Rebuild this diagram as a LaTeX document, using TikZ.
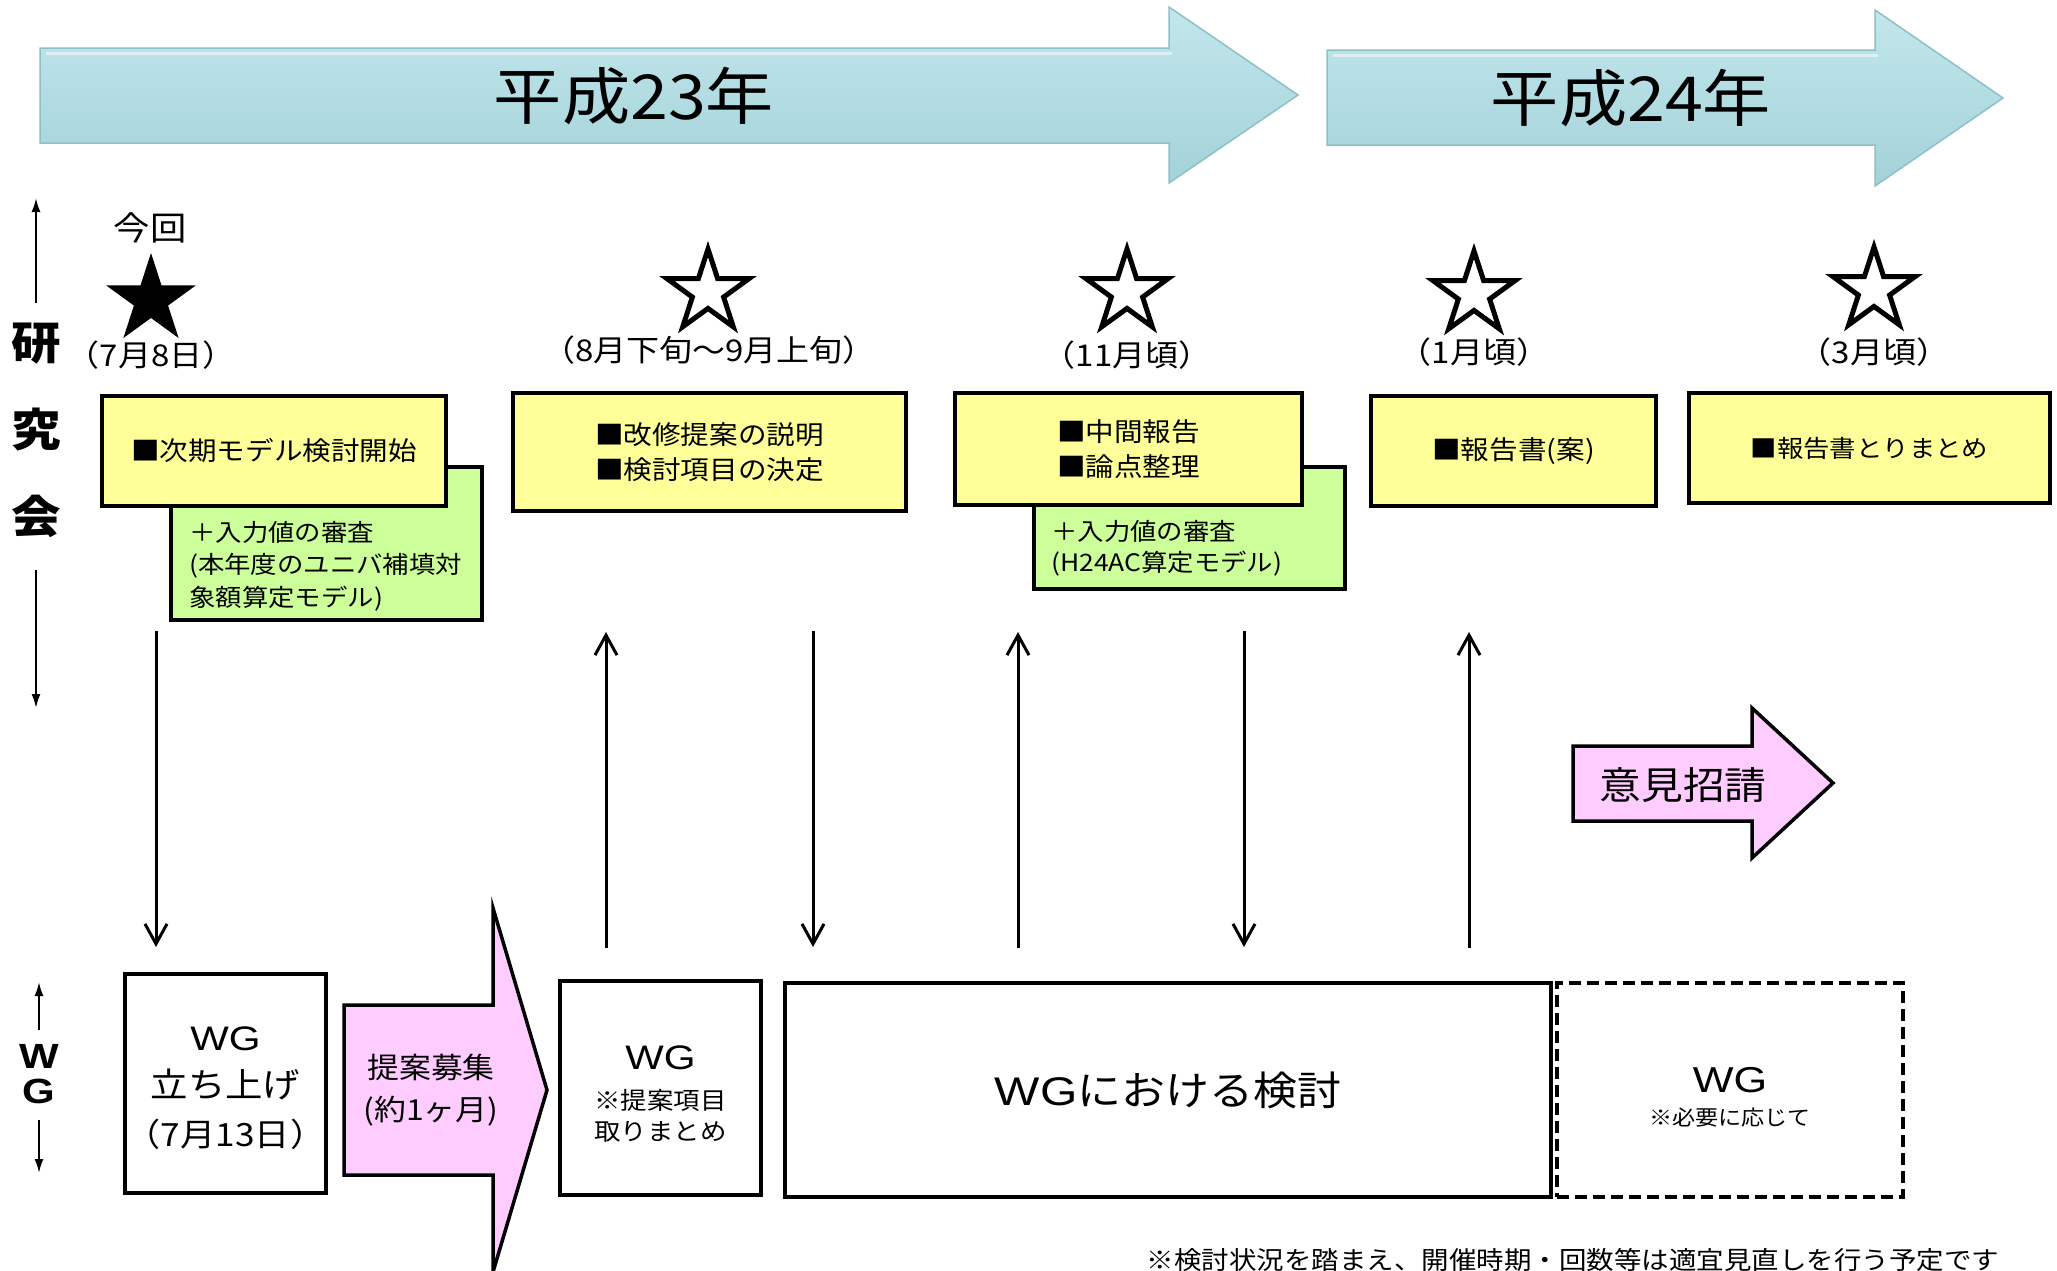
\documentclass[tikz,border=0pt]{standalone}
\usepackage{fontspec}
\setmainfont{Noto Sans CJK JP}[FakeStretch=1.1]
\newfontfamily\latinf{Liberation Sans}[FakeStretch=1.2]
\usetikzlibrary{shapes.geometric,arrows.meta}
\newcommand\myfs[2]{\fontsize{#1}{#2}\selectfont}
\definecolor{yelc}{HTML}{FFFF99}
\definecolor{grnc}{HTML}{CCFF99}
\definecolor{pnkc}{HTML}{FFCCFF}
\definecolor{bluetop}{HTML}{C2E7EC}
\definecolor{bluebot}{HTML}{A3D2D9}
\definecolor{blueedge}{HTML}{8DC0C8}
\tikzset{
  ybox/.style={draw=black, line width=4pt, fill=yelc, inner sep=0pt, align=center},
  gbox/.style={draw=black, line width=4pt, fill=grnc, inner sep=0pt},
  wgbox/.style={draw=black, line width=4pt, fill=white, inner sep=0pt, align=center},
  dbox/.style={draw=black, line width=4pt, dash pattern=on 12pt off 6pt, inner sep=0pt, align=center},
  vconn/.style={line width=3pt, -{Straight Barb[length=20pt,width=22pt,line width=3pt]}},
  sideconn/.style={line width=2pt, -{Latex[length=14pt,width=9pt]}},
  bluearrow/.style={top color=bluetop, bottom color=bluebot, draw=blueedge, line width=1.5pt, line join=miter},
  pinkarrow/.style={fill=pnkc, draw=black, line width=3.5pt, line join=miter},
  ostar/.style={star, star points=5, star point ratio=2.618, minimum size=86pt, inner sep=0pt, draw=black, line width=5pt, fill=white},
  lbl/.style={inner sep=0pt, align=center},
}
\begin{document}
\begin{tikzpicture}[x=1pt,y=-1pt]
\useasboundingbox (0,0) rectangle (2057,1270);
\fill[white] (0,0) rectangle (2057,1270);

% year arrows
\path[bluearrow] (40,48) -- (1169,48) -- (1169,7) -- (1298,95) -- (1169,183) -- (1169,143) -- (40,143) -- cycle;
\draw[white, opacity=0.5, line width=3pt] (46,53) -- (1172,53);
\node[lbl, font=\myfs{62}{66}] (y23) at (634,96) {平成23年};
\path[bluearrow] (1327,50) -- (1875,50) -- (1875,10) -- (2003,98) -- (1875,186) -- (1875,145) -- (1327,145) -- cycle;
\draw[white, opacity=0.5, line width=3pt] (1333,55) -- (1878,55);
\node[lbl, font=\myfs{62}{66}] (y24) at (1631,98) {平成24年};

% left side labels
\node[lbl, font=\myfs{45}{50}\bfseries] (ken) at (36,344) {研};
\node[lbl, font=\myfs{45}{50}\bfseries] (kyu) at (36,430) {究};
\node[lbl, font=\myfs{45}{50}\bfseries] (kai) at (36,516) {会};
\coordinate (kua) at (36,303); \coordinate (kub) at (36,198);
\coordinate (kda) at (36,570); \coordinate (kdb) at (36,708);
\draw[sideconn] (kua) -- (kub);
\draw[sideconn] (kda) -- (kdb);
\node[lbl, font=\myfs{35}{40}\latinf\bfseries] (wW) at (39,1056) {W};
\node[lbl, font=\myfs{35}{40}\latinf\bfseries] (wG) at (39,1091) {G};
\coordinate (wua) at (39,1030); \coordinate (wub) at (39,982);
\coordinate (wda) at (39,1120); \coordinate (wdb) at (39,1173);
\draw[sideconn] (wua) -- (wub);
\draw[sideconn] (wda) -- (wdb);

% stars
\node[lbl, font=\myfs{33}{36}] (konkai) at (150,228) {今回};
\node[star, star points=5, star point ratio=2.618, minimum size=94pt, inner sep=0pt, fill=black] (s0) at (151,300) {};
\node[lbl, font=\myfs{30}{34}] (d0) at (151,355) {（7月8日）};
\node[ostar] (s1) at (708,292) {};
\node[lbl, font=\myfs{30}{34}] (d1) at (709,350) {（8月下旬～9月上旬）};
\node[ostar] (s2) at (1127,292) {};
\node[lbl, font=\myfs{30}{34}] (d2) at (1127,355) {（11月頃）};
\node[ostar] (s3) at (1474,294) {};
\node[lbl, font=\myfs{30}{34}] (d3) at (1474,352) {（1月頃）};
\node[ostar] (s4) at (1874,290) {};
\node[lbl, font=\myfs{30}{34}] (d4) at (1874,352) {（3月頃）};

% meeting boxes
\node[gbox, minimum width=311pt, minimum height=153pt] (gA) at (326.5,543.5) {};
\node[lbl, anchor=west, align=left, font=\myfs{24}{32.5}] (gAt) at (189,566) {＋入力値の審査\\(本年度のユニバ補填対\\象額算定モデル)};
\node[ybox, minimum width=344pt, minimum height=110pt, font=\myfs{26}{35}] (yA) at (274,451) {■次期モデル検討開始};
\node[ybox, minimum width=393pt, minimum height=118pt, font=\myfs{26}{35}] (yB) at (709.5,452) {■改修提案の説明\\■検討項目の決定};
\node[gbox, minimum width=311pt, minimum height=122pt] (gC) at (1189.5,528) {};
\node[lbl, anchor=west, align=left, font=\myfs{24}{31}] (gCt) at (1051,548) {＋入力値の審査\\(H24AC算定モデル)};
\node[ybox, minimum width=347pt, minimum height=112pt, font=\myfs{26}{35}] (yC) at (1128.5,449) {■中間報告\\■論点整理};
\node[ybox, minimum width=285pt, minimum height=110pt, font=\myfs{26}{35}] (yD) at (1513.5,451) {■報告書(案)};
\node[ybox, minimum width=361pt, minimum height=110pt, font=\myfs{24}{35}] (yE) at (1869.5,448) {■報告書とりまとめ};

% vertical connectors
\coordinate (v1a) at (156,631); \coordinate (v1b) at (156,947);
\coordinate (v2a) at (606,948); \coordinate (v2b) at (606,632);
\coordinate (v3a) at (813,631); \coordinate (v3b) at (813,947);
\coordinate (v4a) at (1018,948); \coordinate (v4b) at (1018,632);
\coordinate (v5a) at (1244,631); \coordinate (v5b) at (1244,947);
\coordinate (v6a) at (1469,948); \coordinate (v6b) at (1469,632);
\draw[vconn] (v1a) -- (v1b);
\draw[vconn] (v2a) -- (v2b);
\draw[vconn] (v3a) -- (v3b);
\draw[vconn] (v4a) -- (v4b);
\draw[vconn] (v5a) -- (v5b);
\draw[vconn] (v6a) -- (v6b);

% opinion arrow
\path[pinkarrow] (1573,746) -- (1752,746) -- (1752,708) -- (1833,783) -- (1752,858) -- (1752,821) -- (1573,821) -- cycle;
\node[lbl, font=\myfs{38}{42}] (iken) at (1683,785) {意見招請};

% WG row
\node[wgbox, minimum width=201pt, minimum height=219pt] (wg1) at (225.5,1083.5) {};
\node[lbl, font=\myfs{34}{47}] (wg1t) at (225.5,1063) {{\latinf WG}\\立ち上げ};
\node[lbl, font=\myfs{32}{47}] (wg1d) at (225.5,1134) {（7月13日）};
\path[pinkarrow] (344,1005) -- (493,1005) -- (493,908) -- (547,1090) -- (493,1272) -- (493,1175) -- (344,1175) -- cycle;
\node[lbl, font=\myfs{29}{42}] (teian) at (431,1090) {提案募集\\(約1ヶ月)};
\node[wgbox, minimum width=201pt, minimum height=214pt] (wg2) at (660.5,1088) {};
\node[lbl, font=\myfs{34}{40}\latinf] (wg2t) at (660.5,1058) {WG};
\node[lbl, font=\myfs{24}{31}] (wg2s) at (660.5,1116) {※提案項目\\取りまとめ};
\node[wgbox, minimum width=766pt, minimum height=214pt, font=\myfs{40}{44}] (wg3) at (1168,1090) {{\latinf WG}における検討};
\node[dbox, minimum width=346pt, minimum height=214pt] (wg4) at (1730,1090) {};
\node[lbl, font=\myfs{36}{40}\latinf] (wg4t) at (1730,1080) {WG};
\node[lbl, font=\myfs{21}{26}] (wg4s) at (1730,1118) {※必要に応じて};

\node[lbl, font=\myfs{25}{30}] (note) at (1573,1260) {※検討状況を踏まえ、開催時期・回数等は適宜見直しを行う予定です};
\end{tikzpicture}
\end{document}
